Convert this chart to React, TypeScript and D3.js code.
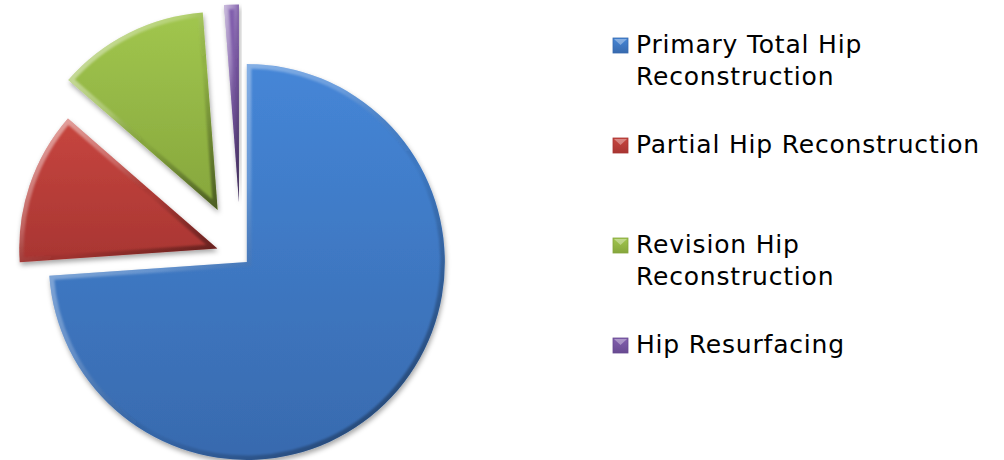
import React from "react";
import * as d3 from "d3";

// share of hip procedures (percent)
const categories = [
  "Primary Total Hip Reconstruction",
  "Partial Hip Reconstruction",
  "Revision Hip Reconstruction",
  "Hip Resurfacing",
];
const values = [73.9, 12.5, 12.4, 1.2];
const legendLines = [
  ["Primary Total Hip", "Reconstruction"],
  ["Partial Hip Reconstruction"],
  ["Revision Hip", "Reconstruction"],
  ["Hip Resurfacing"],
];

const colors = ["#4381cf", "#c0443d", "#9bbf4b", "#7d5ca8"];
const darkColors = ["#386aae", "#a83532", "#86a63c", "#684a91"];
const explode = [8, 25, 52, 54];

const W = 1004;
const H = 460;

const App = () => {
  const ref = React.useRef<SVGSVGElement>(null);

  React.useEffect(() => {
    const svg = d3.select(ref.current);
    svg.selectAll("*").remove();

    const cx = 241,
      cy = 256.5,
      r = 198;

    const defs = svg.append("defs");

    const shadow = defs
      .append("filter")
      .attr("id", "shadow")
      .attr("x", "-20%")
      .attr("y", "-20%")
      .attr("width", "140%")
      .attr("height", "140%");
    shadow
      .append("feDropShadow")
      .attr("dx", 1)
      .attr("dy", 3)
      .attr("stdDeviation", 2.5)
      .attr("flood-color", "#000")
      .attr("flood-opacity", 0.35);

    const soft = defs.append("filter").attr("id", "soft");
    soft.append("feGaussianBlur").attr("stdDeviation", 1.2);

    const bevel = defs
      .append("linearGradient")
      .attr("id", "bevel")
      .attr("x1", 0)
      .attr("y1", 0)
      .attr("x2", 1)
      .attr("y2", 1);
    bevel.append("stop").attr("offset", 0).attr("stop-color", "#fff").attr("stop-opacity", 0.6);
    bevel.append("stop").attr("offset", 0.4).attr("stop-color", "#fff").attr("stop-opacity", 0.2);
    bevel.append("stop").attr("offset", 0.6).attr("stop-color", "#000").attr("stop-opacity", 0.05);
    bevel.append("stop").attr("offset", 1).attr("stop-color", "#000").attr("stop-opacity", 0.45);

    colors.forEach((c, i) => {
      const g = defs
        .append("linearGradient")
        .attr("id", "fill" + i)
        .attr("x1", 0)
        .attr("y1", 0)
        .attr("x2", 0)
        .attr("y2", 1);
      g.append("stop").attr("offset", 0).attr("stop-color", d3.color(c)!.brighter(0.1).formatHex());
      g.append("stop").attr("offset", 1).attr("stop-color", darkColors[i]);
    });

    const pie = d3
      .pie<number>()
      .sort(null)
      .startAngle(0)
      .endAngle(2 * Math.PI);
    const arcs = pie(values);
    const arc = d3.arc<d3.PieArcDatum<number>>().innerRadius(0).outerRadius(r);

    arcs.forEach((a, i) => {
      const mid = (a.startAngle + a.endAngle) / 2;
      const dx = Math.sin(mid) * explode[i];
      const dy = -Math.cos(mid) * explode[i];
      const d = arc(a)!;

      defs.append("clipPath").attr("id", "clip" + i).append("path").attr("d", d);

      const g = svg
        .append("g")
        .attr("transform", `translate(${cx + dx},${cy + dy})`);

      g.append("path")
        .attr("d", d)
        .attr("fill", `url(#fill${i})`)
        .attr("filter", "url(#shadow)");

      g.append("g")
        .attr("clip-path", `url(#clip${i})`)
        .append("path")
        .attr("d", d)
        .attr("fill", "none")
        .attr("stroke", "url(#bevel)")
        .attr("stroke-width", 9)
        .attr("stroke-linejoin", "miter")
        .attr("filter", "url(#soft)");
    });

    // legend
    const legendY = [53, 153, 253, 353];
    const legend = svg
      .append("g")
      .attr("font-family", "Verdana, 'DejaVu Sans', sans-serif")
      .attr("font-size", 25)
      .attr("letter-spacing", 0.8);
    categories.forEach((c, i) => {
      const y = legendY[i];
      const sq = legend.append("g");
      sq.append("rect")
        .attr("x", 613)
        .attr("y", y - 15)
        .attr("width", 15)
        .attr("height", 15)
        .attr("fill", `url(#fill${i})`)
        .attr("stroke", darkColors[i])
        .attr("stroke-width", 0.8);
      sq.append("path")
        .attr("d", `M${614},${y - 14}L${627},${y - 14}L${620.5},${y - 8}Z`)
        .attr("fill", "#fff")
        .attr("opacity", 0.35);
      const t = legend
        .append("text")
        .attr("x", 636)
        .attr("y", y)
        .attr("fill", "#000")
        .attr("aria-label", c);
      legendLines[i].forEach((ln, k) => {
        t.append("tspan")
          .attr("x", 636)
          .attr("dy", k === 0 ? 0 : 32)
          .text(ln);
      });
    });
  }, []);

  return (
    <svg
      ref={ref}
      width={W}
      height={H}
      style={{ position: "absolute", left: 0, top: 0, background: "#fff" }}
    />
  );
};

export default App;
